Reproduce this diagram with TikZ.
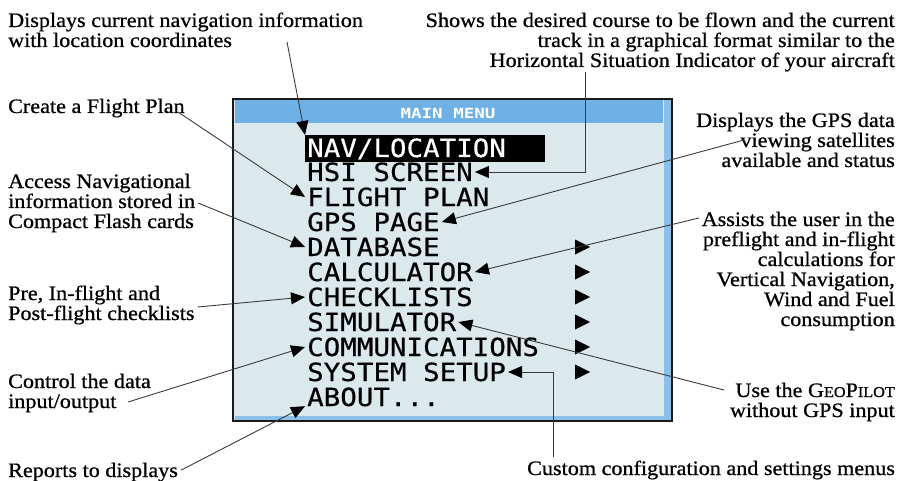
\documentclass[tikz,border=0pt]{standalone}
\usepackage{fontspec}
\setmainfont[FakeStretch=1.08,FakeBold=0.8]{Liberation Serif}
\newfontfamily\menufont[FakeStretch=1.1,FakeBold=0.5]{DejaVu Sans Mono}
\newfontfamily\ttlfont[FakeStretch=1.25]{DejaVu Sans Mono}
\usetikzlibrary{arrows.meta}
\definecolor{screenbg}{HTML}{DCE9EC}
\definecolor{titleblue}{HTML}{6FB1E4}
\definecolor{edgeblue}{HTML}{8CC0E8}
\definecolor{framecol}{HTML}{1A1A1A}
\definecolor{linecol}{HTML}{3A3A3A}
\newcommand{\smc}[1]{{\fontsize{15}{20}\selectfont #1}}
\begin{document}
\begin{tikzpicture}[x=1pt,y=-1pt,
  capt/.style={font=\fontsize{20.5}{20}\selectfont, inner sep=0pt},
  capl/.style={capt, align=left, anchor=base west},
  capr/.style={capt, align=right, anchor=base east},
  item/.style={font=\fontsize{25}{25}\menufont, anchor=base west, inner xsep=2pt, inner ysep=0pt, text height=18pt, text depth=0pt},
  conn/.style={draw=linecol, line width=0.9pt, -{Triangle[length=14pt,width=12pt,color=black]}},
  submark/.style={fill=black}
]
\useasboundingbox (0,0) rectangle (901,481);

% screen
\draw[line width=2.5pt, draw=framecol, fill=screenbg] (233,99) rectangle (672,421);
\fill[titleblue] (234.5,100.5) rectangle (663,123);
\fill[edgeblue] (664,100.5) rectangle (670.7,419.7);
\fill[edgeblue] (234.5,416) rectangle (670.7,419.7);
\node[font=\fontsize{14}{14}\ttlfont\bfseries, text=white, inner sep=0pt] (title) at (448,113) {MAIN MENU};

% highlight
\node[fill=black, minimum width=240pt, minimum height=27pt, inner sep=0pt, anchor=north west] (hl) at (305,135) {};

% menu items
\node[item, text=white] (nav) at (305,157) {NAV/LOCATION};
\node[item] (hsi)  at (305,181) {HSI SCREEN};
\node[item] (fp)   at (305,206) {FLIGHT PLAN};
\node[item] (gps)  at (305,231) {GPS PAGE};
\node[item] (db)   at (305,256) {DATABASE};
\node[item] (calc) at (305,281) {CALCULATOR};
\node[item] (chk)  at (305,306) {CHECKLISTS};
\node[item] (sim)  at (305,331) {SIMULATOR};
\node[item] (com)  at (305,356) {COMMUNICATIONS};
\node[item] (sys)  at (305,381) {SYSTEM SETUP};
\node[item] (abt)  at (305,406) {ABOUT...};

% submenu markers
\foreach \c in {247,272,297,322,347,372}
  \fill[submark] (575,\c-7.5) -- (590,\c) -- (575,\c+7.5) -- cycle;

% captions left (anchored at the baseline of the last line)
\node[capl] (navtxt) at (8,47) {Displays current navigation information\\with location coordinates};
\node[capl] (fptxt) at (8,113) {Create a Flight Plan};
\node[capl] (dbtxt) at (8,228) {Access Navigational\\information stored in\\Compact Flash cards};
\node[capl] (chktxt) at (8,320) {Pre, In-flight and\\Post-flight checklists};
\node[capl] (comtxt) at (8,408) {Control the data\\input/output};
\node[capl] (abttxt) at (8,477) {Reports to displays};

% captions right
\node[capr] (hsitxt) at (895,67) {Shows the desired course to be flown and the current\\track in a graphical format similar to the\\Horizontal Situation Indicator of your aircraft};
\node[capr] (gpstxt) at (895,167) {Displays the GPS data\\viewing satellites\\available and status};
\node[capr] (calctxt) at (895,326) {Assists the user in the\\preflight and in-flight\\calculations for\\Vertical Navigation,\\Wind and Fuel\\consumption};
\node[capr] (simtxt) at (895,417) {Use the G\smc{EO}P\smc{ILOT}\\without GPS input};
\node[capl] (systxt) at (527,475) {Custom configuration and settings menus};

% connector free ends
\coordinate (navs) at (287,42);
\coordinate (hsis) at (585,72);
\coordinate (fps) at (178,112);
\coordinate (dbs) at ([xshift=3pt]dbtxt.east);
\coordinate (chks) at ([xshift=3pt,yshift=-2pt]chktxt.east);
\coordinate (coms) at (128,402);
\coordinate (abts) at ([xshift=3pt,yshift=2pt]abttxt.east);
\coordinate (gpss) at (744,140);
\coordinate (calcs) at (699,218);
\coordinate (sims) at (724,390);
\coordinate (syss) at (553,457);

% connectors
\draw[conn] (navs) -- (hl.north west);
\draw[conn] (hsis) |- (hsi.east);
\draw[conn] (fps) -- (fp.west);
\draw[conn] (dbs) -- (db.west);
\draw[conn] (chks) -- (chk.west);
\draw[conn] (coms) -- (com.west);
\draw[conn] (abts) -- (abt.south west);
\draw[conn] (gpss) -- (gps.east);
\draw[conn] (calcs) -- (calc.east);
\draw[conn] (sims) -- (sim.east);
\draw[conn] (syss) |- (sys.east);
\end{tikzpicture}
\end{document}
